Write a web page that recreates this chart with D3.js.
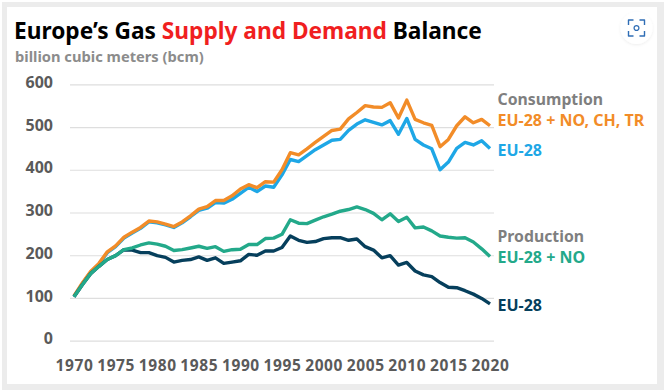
<!DOCTYPE html>
<html>
<head>
<meta charset="utf-8">
<script src="https://cdn.jsdelivr.net/npm/d3@7"></script>
<style>
html, body { margin: 0; padding: 0; background: #fff; }
svg { display: block; font-family: "Noto Sans", sans-serif; font-weight: 700; }
.axis path, .axis line { display: none; }
.grid line { stroke: #dedede; stroke-width: 1.2; }
.grid path { display: none; }
</style>
</head>
<body>
<div class="chart"></div>
<script>
var years = d3.range(1970, 2021);
var yTicks = [0, 100, 200, 300, 400, 500, 600];
var xTicks = [1970, 1975, 1980, 1985, 1990, 1995, 2000, 2005, 2010, 2015, 2020];

var consumptionPlus = [105,135,162,181,208,222,242,254,265,280,278,273,267,278,292,308,314,328,328,339,355,365,358,372,371,400,440,435,449,464,478,492,495,519,534,550,547,546,557,521,563,518,510,504,454,471,503,524,510,518,503];
var consumptionEu = [103,133,160,179,206,220,240,252,263,278,276,271,265,276,290,305,310,323,322,331,345,359,349,362,359,388,424,419,433,447,458,469,471,492,507,517,511,505,515,483,520,471,458,449,400,418,450,464,458,468,450];
var productionPlus = [103,131,157,174,190,199,213,217,224,229,226,221,211,213,217,221,216,220,209,213,214,225,225,239,240,249,283,275,274,282,290,296,303,307,313,307,298,283,297,279,289,264,266,257,245,242,240,241,231,215,197];
var productionEu = [103,131,157,174,190,199,213,212,206,206,199,195,184,188,190,196,188,194,181,184,187,202,200,210,210,218,245,235,230,232,239,241,241,235,238,220,212,194,199,177,183,163,154,150,136,125,124,117,109,99,86];

var seriesNames = ["EU-28 + NO, CH, TR", "EU-28", "EU-28 + NO", "EU-28"];
var seriesColors = ["#f28c28", "#1ea7e6", "#23a98a", "#063f5c"];
var seriesLabelY = [120, 150, 257, 305];
var groupNames = ["Consumption", "Production"];
var groupLabelY = [99, 236];

var width = 664, height = 390;
var svg = d3.select(".chart").append("svg").attr("width", width).attr("height", height);

//Soft shadow for the screenshot button
var shadow = svg.append("defs").append("filter").attr("id", "soft")
  .attr("x", "-30%").attr("y", "-30%").attr("width", "160%").attr("height", "160%");
shadow.append("feDropShadow").attr("dx", 0).attr("dy", 1).attr("stdDeviation", 1.5)
  .attr("flood-color", "#000").attr("flood-opacity", 0.07);

//Grey frame with the white card on it
svg.append("rect").attr("x", 2).attr("y", 2).attr("width", 662).attr("height", 388).attr("fill", "#ececec");
svg.append("rect").attr("x", 7).attr("y", 7).attr("width", 650).attr("height", 377).attr("fill", "#fff");

//Scales
var x = d3.scaleLinear().domain([1970, 2020]).range([74, 490]);
var y = d3.scaleLinear().domain([0, 600]).range([340.7, 84.3]);

//Grid lines
svg.append("g").attr("class", "grid")
  .attr("transform", "translate(70,0)")
  .call(d3.axisLeft(y).tickValues(yTicks).tickSize(-424).tickFormat(""));

//y Axis
svg.append("g").attr("class", "axis y")
  .attr("transform", "translate(53,-2)")
  .call(d3.axisLeft(y).tickValues(yTicks).tickSize(0).tickPadding(0).tickFormat(d3.format("d")))
  .call(function(g){ g.select(".domain").remove(); })
  .selectAll("text")
  .attr("font-size", 16).attr("font-family", "Noto Sans").attr("font-weight", 700).attr("fill", "#5a5a5a");

//x axis
svg.append("g").attr("class", "axis x")
  .attr("transform", "translate(0,360)")
  .call(d3.axisBottom(x).tickValues(xTicks).tickSize(0).tickPadding(0).tickFormat(d3.format("d")))
  .call(function(g){ g.select(".domain").remove(); })
  .selectAll("text")
  .attr("font-size", 15.5).attr("letter-spacing", 0.6).attr("font-family", "Noto Sans").attr("font-weight", 700).attr("fill", "#5a5a5a");

//Lines, drawn so production sits on top of the older years
var line = d3.line().x(function(d, i){ return x(years[i]); }).y(function(d){ return y(d); });
var drawOrder = [1, 0, 3, 2];
var allSeries = [consumptionPlus, consumptionEu, productionPlus, productionEu];
drawOrder.forEach(function(k){
  svg.append("path")
    .datum(allSeries[k])
    .attr("d", line)
    .attr("fill", "none")
    .attr("stroke", seriesColors[k])
    .attr("stroke-width", 3.4)
    .attr("stroke-linejoin", "round");
});

//Line labels
svg.selectAll(".series-label").data(seriesNames).enter().append("text")
  .attr("class", "series-label")
  .attr("x", 497.5)
  .attr("y", function(d, i){ return seriesLabelY[i]; })
  .attr("dy", "0.35em")
  .attr("font-size", 16)
  .attr("fill", function(d, i){ return seriesColors[i]; })
  .text(function(d){ return d; });

svg.selectAll(".group-label").data(groupNames).enter().append("text")
  .attr("class", "group-label")
  .attr("x", 497.5)
  .attr("y", function(d, i){ return groupLabelY[i]; })
  .attr("dy", "0.35em")
  .attr("font-size", 15.8)
  .attr("fill", "#7f7f7f")
  .text(function(d){ return d; });

//Title
var title = svg.append("text").attr("x", 14).attr("y", 39).attr("font-size", 22.7);
title.append("tspan").attr("fill", "#000").text("Europe\u2019s Gas ");
title.append("tspan").attr("fill", "#f01f1f").text("Supply and Demand");
title.append("tspan").attr("fill", "#000").text(" Balance");

svg.append("text").attr("x", 15).attr("y", 62).attr("font-size", 14.7).attr("fill", "#8c8c8c")
  .text("billion cubic meters (bcm)");

//Screenshot button
var btn = svg.append("g").attr("transform", "translate(636.5,28)");
btn.append("circle").attr("r", 16).attr("fill", "#fff").attr("filter", "url(#soft)");
btn.append("path")
  .attr("d", "M-8,-3V-8H-3M3,-8H8V-3M8,3V8H3M-3,8H-8V3")
  .attr("fill", "none").attr("stroke", "#2f6db5").attr("stroke-width", 1.4).attr("stroke-linejoin", "round");
btn.append("circle").attr("r", 2.4).attr("fill", "none").attr("stroke", "#2f6db5").attr("stroke-width", 1.3);
</script>
</body>
</html>
